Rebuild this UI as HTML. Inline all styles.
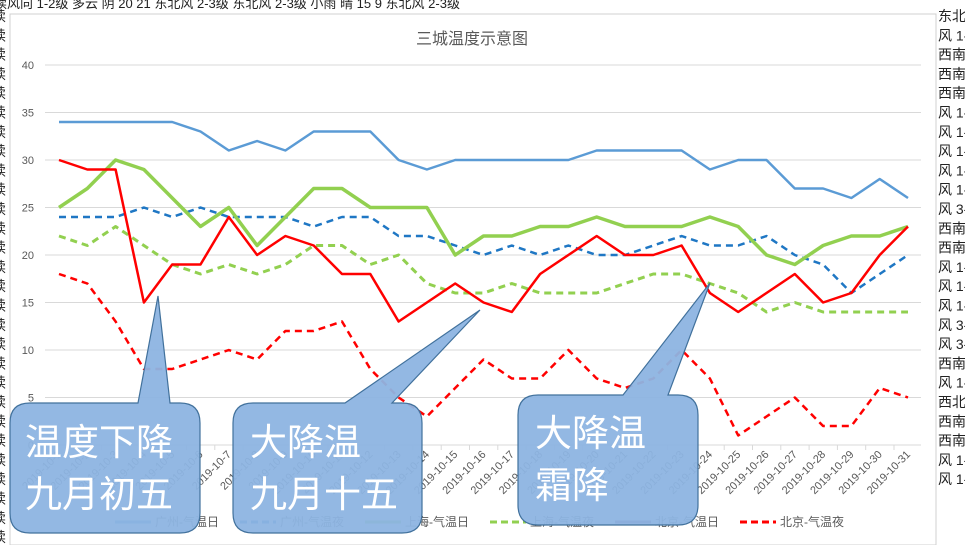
<!DOCTYPE html>
<html><head><meta charset="utf-8"><style>
html,body{margin:0;padding:0;width:965px;height:545px;overflow:hidden;background:#fff;font-family:"Liberation Sans","Noto Sans CJK SC",sans-serif}
svg{position:absolute;left:0;top:0}
</style></head><body>
<svg id="s" width="965" height="545" xmlns="http://www.w3.org/2000/svg" font-family="Liberation Sans, Noto Sans CJK SC, sans-serif">
<rect x="0" y="0" width="965" height="545" fill="#fff"/>
<g id="bg" font-size="14" fill="#222"></g>
<rect x="10" y="14" width="926" height="531" fill="#fff" stroke="#d0d0d0"/>
<text x="472" y="44" font-size="16" fill="#595959" text-anchor="middle">三城温度示意图</text>
<g id="grid"></g>
<g id="series" fill="none" stroke-linejoin="round"></g>
<g id="xl" font-size="11" fill="#595959"></g>
<g id="legend" font-size="12" fill="#595959"></g>
<g fill="#8db4e2" fill-opacity="0.95" stroke="#41719c" stroke-width="1.2">
<path d="M30,403 L138,403 L158,296 L170,403 L180,403 Q200,403 200,423 L200,513 Q200,533 180,533 L30,533 Q10,533 10,513 L10,423 Q10,403 30,403 Z"/>
<path d="M253,403 L345,403 L480,310 L392,403 L402,403 Q422,403 422,423 L422,513 Q422,533 402,533 L253,533 Q233,533 233,513 L233,423 Q233,403 253,403 Z"/>
<path d="M538,395 L623,395 L710,283 L668,395 L678,395 Q698,395 698,415 L698,505 Q698,525 678,525 L538,525 Q518,525 518,505 L518,415 Q518,395 538,395 Z"/>
</g>
<g fill="#fff" font-size="37" font-family="Liberation Sans, Noto Sans CJK SC, sans-serif">
<text x="25" y="455">温度下降</text>
<text x="25" y="507">九月初五</text>
<text x="250" y="455">大降温</text>
<text x="250" y="507">九月十五</text>
<text x="535" y="446">大降温</text>
<text x="535" y="498">霜降</text>
</g>
</svg>
<script>
const NS="http://www.w3.org/2000/svg";
function el(p,t,a,txt){const e=document.createElementNS(NS,t);for(const k in a)e.setAttribute(k,a[k]);if(txt!=null)e.textContent=txt;p.appendChild(e);return e;}
const Y=v=>445-v*9.5, X=i=>59+i*28.3;
const g=document.getElementById('grid');
for(let v=0;v<=40;v+=5){el(g,'line',{x1:45,x2:921,y1:Y(v),y2:Y(v),stroke:'#d9d9d9'});el(g,'text',{x:34,y:Y(v)+4,'font-size':11,fill:'#595959','text-anchor':'end'},v);}
const d={
gd:[34,34,34,34,34,33,31,32,31,33,33,33,30,29,30,30,30,30,30,31,31,31,31,29,30,30,27,27,26,28,26],
gn:[24,24,24,25,24,25,24,24,24,23,24,24,22,22,21,20,21,20,21,20,20,21,22,21,21,22,20,19,16,18,20],
sd:[25,27,30,29,26,23,25,21,24,27,27,25,25,25,20,22,22,23,23,24,23,23,23,24,23,20,19,21,22,22,23],
sn:[22,21,23,21,19,18,19,18,19,21,21,19,20,17,16,16,17,16,16,16,17,18,18,17,16,14,15,14,14,14,14],
bd:[30,29,29,15,19,19,24,20,22,21,18,18,13,15,17,15,14,18,20,22,20,20,21,16,14,16,18,15,16,20,23],
bn:[18,17,13,8,8,9,10,9,12,12,13,8,5,3,6,9,7,7,10,7,6,7,10,7,1,3,5,2,2,6,5]};
const st={gd:['#5b9bd5',2.5,''],gn:['#1f77c4',2.5,'7,5'],sd:['#92d050',3.5,''],sn:['#92d050',3,'7,5'],bn:['#ff0000',2.5,'7,5'],bd:['#ff0000',2.5,'']};
const s=document.getElementById('series');
for(const k of ['gd','gn','sd','sn','bn','bd']){el(s,'polyline',{points:d[k].map((v,i)=>X(i)+','+Y(v)).join(' '),stroke:st[k][0],'stroke-width':st[k][1],'stroke-dasharray':st[k][2]});}
const xl=document.getElementById('xl');
for(let i=0;i<31;i++){const x=X(i);el(xl,'line',{x1:x-14,x2:x-14,y1:445,y2:450,stroke:'#d9d9d9'});el(xl,'text',{transform:`translate(${x+3},455) rotate(-45)`,'text-anchor':'end'},'2019-10-'+(i+1));}
const lg=document.getElementById('legend');
const items=[['广州-气温日','#5b9bd5',''],['广州-气温夜','#1f77c4','7,4'],['上海-气温日','#92d050',''],['上海-气温夜','#92d050','7,4'],['北京-气温日','#7e3f6f',''],['北京-气温夜','#ff0000','7,4']];
items.forEach((it,i)=>{const x=115+i*125;el(lg,'line',{x1:x,x2:x+36,y1:522,y2:522,stroke:it[1],'stroke-width':3,'stroke-dasharray':it[2]});el(lg,'text',{x:x+40,y:526},it[0]);});
const bg=document.getElementById('bg');
const R=['东北','风 1-','西南','西南','西南','风 1-','风 1-','风 1-','风 1-','风 1-','风 3-','西南','西南','风 1-','风 1-','风 1-','风 3-','风 3-','西南','风 1-','西北','西南','西南','风 1-','风 1-'];
R.forEach((t,i)=>el(bg,'text',{x:938,y:21+i*19.3},t));
for(let i=0;i<28;i++)el(bg,'text',{x:-8,y:21+i*19.3},'续');
el(bg,'text',{x:-6,y:8,'font-size':13},'续风向 1-2级    多云 阴    20    21 东北风 2-3级 东北风 2-3级    小雨  晴    15    9 东北风 2-3级');
</script>
</body></html>
